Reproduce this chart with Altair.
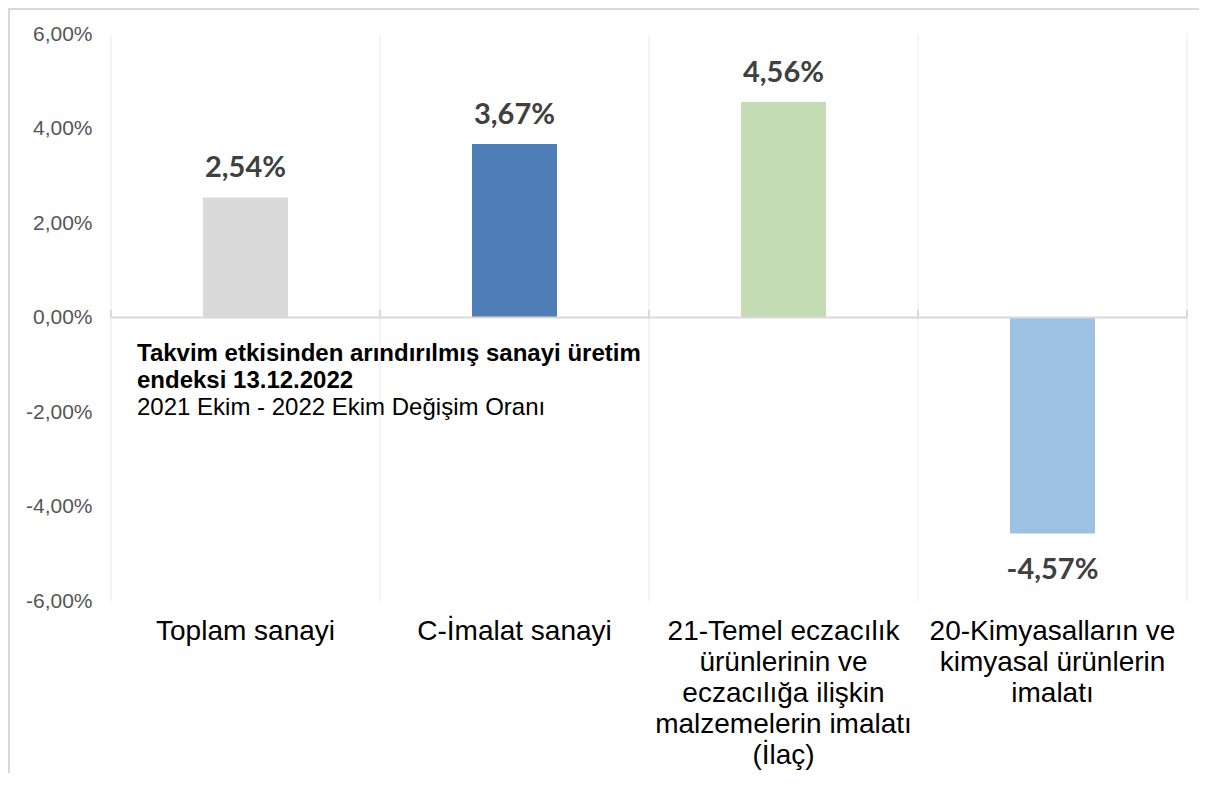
import altair as alt
import pandas as pd

categories = [
    "Toplam sanayi",
    "C-İmalat sanayi",
    "21-Temel eczacılık|ürünlerinin ve|eczacılığa ilişkin|malzemelerin imalatı|(İlaç)",
    "20-Kimyasalların ve|kimyasal ürünlerin|imalatı",
]
values = [2.54, 3.67, 4.56, -4.57]
labels = ["2,54%", "3,67%", "4,56%", "-4,57%"]
colors = ["#d9d9d9", "#4f7db5", "#c4dcb3", "#9dc1e3"]
boundaries = [0, 1, 2, 3, 4]
title_lines = ["Takvim etkisinden arındırılmış sanayi üretim", "endeksi 13.12.2022"]
subtitle = "2021 Ekim - 2022 Ekim Değişim Oranı"

W, H = 1076, 567
PAD_L, PAD_T = 103, 26

df = pd.DataFrame({"cat": categories, "val": values, "lab": labels, "col": colors})
df["pos"] = df["val"].apply(lambda v: v if v >= 0 else None)
df["neg"] = df["val"].apply(lambda v: v if v < 0 else None)
bdf = pd.DataFrame({"b": boundaries})

yscale = alt.Scale(domain=[-6, 6], nice=False, zero=False)
xscale = alt.Scale(domain=categories, paddingInner=0, paddingOuter=0)
bscale = alt.Scale(domain=[0, 4], nice=False, zero=False)

one = pd.DataFrame({"k": [0]})
border_left = alt.Chart(one).mark_rule(color="#d9d9d9", strokeWidth=2, clip=False).encode(
    x=alt.value(-PAD_L + 1), y=alt.value(-PAD_T), y2=alt.value(H + 300)
)
border_top = alt.Chart(one).mark_rule(color="#d9d9d9", strokeWidth=2, clip=False).encode(
    x=alt.value(-PAD_L), x2=alt.value(W + 60), y=alt.value(-PAD_T + 1)
)

grid = alt.Chart(bdf).mark_rule(color="#f0f0f0", strokeWidth=1.5).encode(
    x=alt.X("b:Q", scale=bscale, axis=None),
    y=alt.datum(-6, scale=yscale),
    y2=alt.datum(6),
)

ticks = alt.Chart(bdf).mark_rule(color="#d9d9d9", strokeWidth=2).encode(
    x=alt.X("b:Q", scale=bscale, axis=None),
    y=alt.datum(0),
    y2=alt.datum(0.16),
)

xenc_axis = alt.X(
    "cat:N",
    scale=xscale,
    sort=categories,
    axis=alt.Axis(
        title=None, domain=False, ticks=False, grid=False,
        labelExpr="split(datum.label, '|')",
        labelFont="Liberation Sans", labelFontSize=28, labelColor="#000000",
        labelLineHeight=31, labelPadding=16, labelBaseline="top",
        labelAngle=0, labelLimit=500,
    ),
)
xenc_plain = alt.X("cat:N", scale=xscale, sort=categories)

bars = alt.Chart(df).mark_bar(size=85).encode(
    x=xenc_axis,
    y=alt.Y(
        "val:Q", scale=yscale,
        axis=alt.Axis(
            title=None, values=[-6, -4, -2, 0, 2, 4, 6], domain=False, ticks=False,
            grid=False,
            labelExpr="(datum.value < 0 ? '-' : '') + replace(format(abs(datum.value), '.2f'), '.', ',') + '%'",
            labelFont="Liberation Sans", labelFontSize=21, labelColor="#555555",
            labelPadding=19,
        ),
    ),
    y2=alt.datum(0),
    color=alt.Color("col:N", scale=None),
)

zero = alt.Chart(one).mark_rule(color="#d9d9d9", strokeWidth=2).encode(
    y=alt.datum(0),
    x=alt.value(0), x2=alt.value(W),
)

pos_lab = alt.Chart(df).mark_text(
    font="Lato", fontWeight="bold", fontSize=29, color="#404040", baseline="bottom", dy=-14
).encode(x=xenc_plain, y=alt.Y("pos:Q"), text="lab:N")

neg_lab = alt.Chart(df).mark_text(
    font="Lato", fontWeight="bold", fontSize=29, color="#404040", baseline="top", dy=23
).encode(x=xenc_plain, y=alt.Y("neg:Q"), text="lab:N")

ann = alt.Chart(pd.DataFrame({"t": [title_lines]})).mark_text(
    font="Liberation Sans", fontWeight="bold", fontSize=24, align="left",
    baseline="top", lineHeight=27, color="#000000",
).encode(x=alt.value(26), y=alt.value(308), text="t")

ann2 = alt.Chart(pd.DataFrame({"t": [subtitle]})).mark_text(
    font="Liberation Sans", fontSize=24, align="left", baseline="top", color="#000000",
).encode(x=alt.value(26), y=alt.value(362), text="t:N")

back = alt.layer(border_left, border_top, grid, ticks)
front = alt.layer(bars, zero, pos_lab, neg_lab, ann, ann2)

chart = alt.layer(back, front).resolve_scale(
    x="independent"
).properties(
    width=W, height=H,
    autosize=alt.AutoSizeParams(type="none"),
    padding={"left": PAD_L, "top": PAD_T, "right": 12, "bottom": 172},
).configure_view(stroke=None)

chart.save("out.html", embed_options={"renderer": "svg", "actions": False})
